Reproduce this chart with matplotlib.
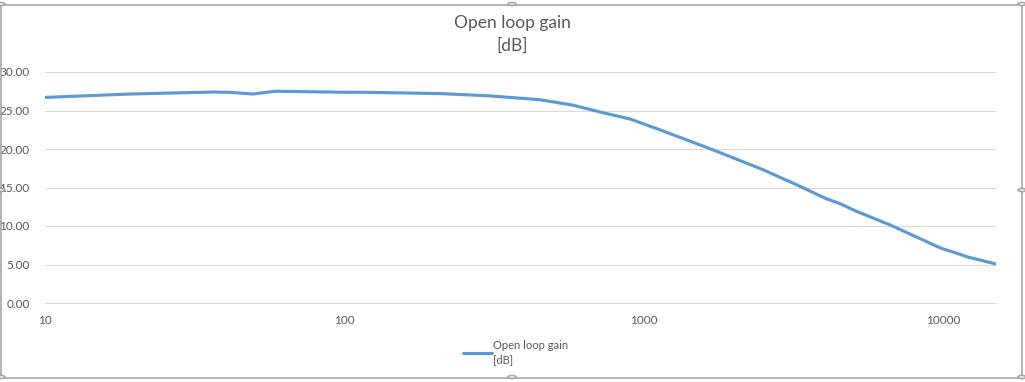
import matplotlib
matplotlib.use("Agg")
import matplotlib.pyplot as plt
from matplotlib.ticker import FixedLocator, FixedFormatter, NullLocator
from matplotlib.patches import Rectangle, Circle

# frequency [Hz] and open loop gain [dB]
freq = [10, 19.2, 36.4, 41.4, 49.5, 58.6, 96.6, 118, 208, 305, 449, 577,
        749, 897, 1128, 1220, 1695, 1940, 2498, 3250, 4080, 4450, 5150,
        6660, 9810, 10800, 11960, 14950]
gain = [26.7, 27.14, 27.4, 27.36, 27.14, 27.5, 27.38, 27.36, 27.2, 26.9,
        26.4, 25.7, 24.6, 23.9, 22.5, 22.0, 19.9, 19.0, 17.3, 15.3, 13.5,
        13.0, 11.86, 10.1, 7.1, 6.6, 6.0, 5.06]

x_ticks = [10, 100, 1000, 10000]
y_ticks = [0, 5, 10, 15, 20, 25, 30]

title = "Open loop gain\n[dB]"
line_color = "#5B9BD5"
text_color = "#595959"

plt.rcParams['font.family'] = ['Lato', 'DejaVu Sans']

fig = plt.figure(figsize=(10.25, 3.82), dpi=100)
ax = fig.add_axes([45 / 1025, 1 - 303 / 382, 951 / 1025, 231 / 382])

ax.plot(freq, gain, color=line_color, lw=2.25, solid_capstyle="round",
        solid_joinstyle="round", label=title)

ax.set_xscale("log")
ax.set_xlim(10, 14950)
ax.set_ylim(0, 30)
ax.xaxis.set_major_locator(FixedLocator(x_ticks))
ax.xaxis.set_major_formatter(FixedFormatter([str(t) for t in x_ticks]))
ax.xaxis.set_minor_locator(NullLocator())
ax.set_yticks(y_ticks)
ax.set_yticklabels([f"{t:.2f}" for t in y_ticks])

ax.grid(axis="y", color="#D9D9D9", lw=0.75)
ax.set_axisbelow(True)
for s in ["top", "right", "left"]:
    ax.spines[s].set_visible(False)
ax.spines["bottom"].set_color("#D9D9D9")
ax.spines["bottom"].set_linewidth(0.75)
ax.tick_params(axis="both", length=0, labelsize=8.5, labelcolor=text_color)
ax.tick_params(axis="x", pad=9)
ax.tick_params(axis="y", pad=11)

fig.text(0.5, 1 - 34 / 382, title, ha="center", va="center",
         fontsize=12.5, color=text_color, linespacing=1.5)

leg = ax.legend(loc="center", bbox_to_anchor=(0.495, -0.215), frameon=False,
                fontsize=8, handlelength=2.6, handletextpad=0.05,
                labelcolor=text_color)
for t in leg.get_texts():
    t.set_linespacing(1.3)

# chart frame with selection handles
fig.patches.append(Rectangle((1 / 1025, 4 / 382), 1021 / 1025, 373 / 382,
                             transform=fig.transFigure, fill=False,
                             ec="#A6A6A6", lw=1.2))
for hx, hy in [(1, 4), (512, 4), (1022, 4), (1, 190), (1022, 190),
               (1, 377), (512, 377), (1022, 377)]:
    fig.patches.append(Circle((hx / 1025, 1 - hy / 382), 4 / 1025,
                              transform=fig.transFigure, fc="white",
                              ec="#A6A6A6", lw=1.2))

fig.savefig("out.png", dpi=100)
